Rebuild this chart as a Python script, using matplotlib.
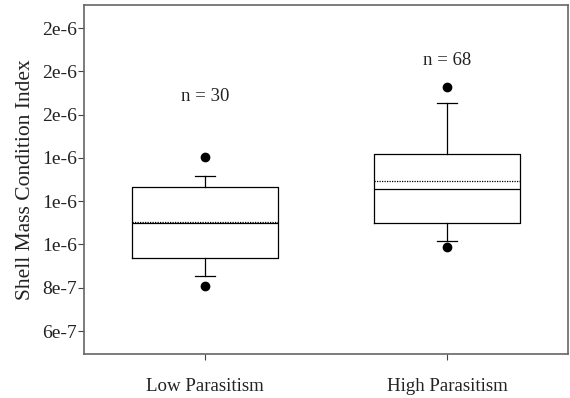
import matplotlib
matplotlib.use("Agg")
import matplotlib.pyplot as plt
from matplotlib.ticker import FuncFormatter

plt.rcParams['font.family'] = ['Liberation Serif', 'DejaVu Serif']

categories = ["Low Parasitism", "High Parasitism"]
n_labels = ["n = 30", "n = 68"]
n_label_y = [1.683e-6, 1.852e-6]
q1 = [0.936e-6, 1.098e-6]
q3 = [1.264e-6, 1.419e-6]
medians = [1.100e-6, 1.255e-6]
means = [1.106e-6, 1.292e-6]
whislo = [0.853e-6, 1.016e-6]
whishi = [1.315e-6, 1.654e-6]
outliers = [[0.808e-6, 1.403e-6], [0.987e-6, 1.728e-6]]
yticks = [6e-7, 8e-7, 1.0e-6, 1.2e-6, 1.4e-6, 1.6e-6, 1.8e-6, 2.0e-6]

fig = plt.figure(figsize=(5.70, 3.98), dpi=100)
ax = fig.add_axes([84/570, 1 - 354/398, (568-84)/570, (354-5)/398])

stats = []
for i in range(len(categories)):
    stats.append(dict(label=categories[i], q1=q1[i], q3=q3[i], med=medians[i],
                      mean=means[i], whislo=whislo[i], whishi=whishi[i],
                      fliers=outliers[i]))

positions = [1, 2]
res = ax.bxp(stats, positions=positions, widths=0.6, capwidths=0.085,
             showmeans=True, meanline=True, showfliers=True,
             boxprops=dict(color='black', linewidth=0.9),
             whiskerprops=dict(color='black', linewidth=0.9),
             capprops=dict(color='black', linewidth=0.9),
             medianprops=dict(color='black', linewidth=0.9),
             meanprops=dict(color='black', linestyle=(0, (1, 1)), linewidth=0.9),
             flierprops=dict(marker='o', markerfacecolor='black', markeredgecolor='black',
                             markersize=6))
for m in res['means']:
    m.set_zorder(5)

for i, p in enumerate(positions):
    ax.text(p, n_label_y[i], n_labels[i], ha='center', va='center', fontsize=13.5,
            color='#222222')

ax.set_xlim(0.5, 2.5)
ax.set_ylim(4.94e-7, 2.1065e-6)
ax.set_yticks(yticks)
ax.yaxis.set_major_formatter(FuncFormatter(lambda v, p: f"{v:.0e}".replace("e-0", "e-")))
ax.set_xticks(positions)
ax.set_xticklabels(categories)
ax.tick_params(axis='both', direction='out', length=4, width=0.8, color='#444444',
               labelsize=14, labelcolor='#222222')
ax.tick_params(axis='x', pad=13, labelsize=13.6)
ax.tick_params(axis='y', pad=1)
for s in ax.spines.values():
    s.set_color('#666666')
    s.set_linewidth(1.2)
ax.set_ylabel("Shell Mass Condition Index", fontsize=15.5, color='#222222', labelpad=5)

fig.savefig("out.png", dpi=100)
